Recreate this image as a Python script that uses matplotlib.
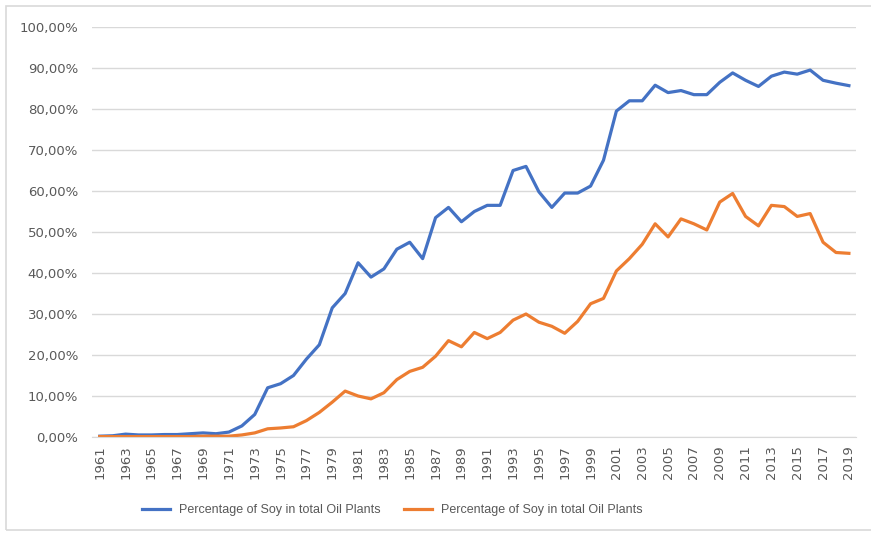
import numpy as np
import matplotlib.pyplot as plt
from matplotlib.patches import Rectangle
from matplotlib.ticker import FuncFormatter

years = list(range(1961, 2020))

# share of soy (%), blue series
soy_blue = [0.2, 0.3, 0.7, 0.5, 0.5, 0.6, 0.6, 0.8, 1.0, 0.8,
            1.2, 2.7, 5.5, 12.0, 13.0, 15.0, 19.0, 22.5, 31.5, 35.0,
            42.5, 39.0, 41.0, 45.8, 47.5, 43.5, 53.5, 56.0, 52.5, 55.0,
            56.5, 56.5, 65.0, 66.0, 59.8, 56.0, 59.5, 59.5, 61.2, 67.5,
            79.5, 82.0, 82.0, 85.8, 84.0, 84.5, 83.5, 83.5, 86.5, 88.8,
            87.0, 85.5, 88.0, 89.0, 88.5, 89.5, 87.0, 86.3, 85.7]

# share of soy (%), orange series
soy_orange = [0.1, 0.1, 0.1, 0.1, 0.1, 0.1, 0.1, 0.1, 0.2, 0.2,
              0.2, 0.5, 1.0, 2.0, 2.2, 2.5, 4.0, 6.0, 8.5, 11.2,
              10.0, 9.3, 10.8, 14.0, 16.0, 17.0, 19.7, 23.5, 22.0, 25.5,
              24.0, 25.5, 28.5, 30.0, 28.0, 27.0, 25.3, 28.2, 32.5, 33.8,
              40.5, 43.5, 47.0, 52.0, 48.8, 53.2, 52.0, 50.5, 57.3, 59.4,
              53.8, 51.5, 56.5, 56.2, 53.8, 54.5, 47.5, 45.0, 44.8]

label = 'Percentage of Soy in total Oil Plants'
BLUE = '#4472C4'
ORANGE = '#ED7D31'
GRAY = '#595959'

fig = plt.figure(figsize=(8.71, 5.36), dpi=100)
fig.patches.append(Rectangle((6 / 871, 1 - 530 / 536), 1.2, (530 - 6) / 536,
                             transform=fig.transFigure, fill=False,
                             edgecolor='#D9D9D9', lw=1.2))

ax = fig.add_axes([92 / 871, 1 - 437 / 536, (856 - 92) / 871, (437 - 27) / 536])
ax.plot(years, np.array(soy_blue) / 100, color=BLUE, lw=2.3, label=label,
        solid_joinstyle='round')
ax.plot(years, np.array(soy_orange) / 100, color=ORANGE, lw=2.3, label=label,
        solid_joinstyle='round')

ax.set_ylim(0, 1.0)
ax.set_xlim(1960.4, 2019.55)
ax.set_yticks(np.arange(0, 1.01, 0.1))
ax.yaxis.set_major_formatter(FuncFormatter(lambda v, p: ('%.2f%%' % (v * 100)).replace('.', ',')))
ax.set_xticks(years[::2])
ax.set_xticklabels([str(y) for y in years[::2]], rotation=90)
ax.tick_params(axis='both', length=0, labelsize=9.5, labelcolor=GRAY)
ax.tick_params(axis='x', pad=6)
ax.tick_params(axis='y', pad=10)
ax.grid(axis='y', color='#D9D9D9', lw=1)
ax.set_axisbelow(True)
for s in ['top', 'right', 'left']:
    ax.spines[s].set_visible(False)
ax.spines['bottom'].set_color('#D9D9D9')

fig.legend(loc='center', bbox_to_anchor=(392.5 / 871, 1 - 510 / 536), ncol=2,
           frameon=False, prop={'family': 'Liberation Sans', 'size': 9},
           labelcolor=GRAY, handlelength=2.24, columnspacing=1.84,
           handletextpad=0.72)

plt.savefig('out.png', dpi=100)
